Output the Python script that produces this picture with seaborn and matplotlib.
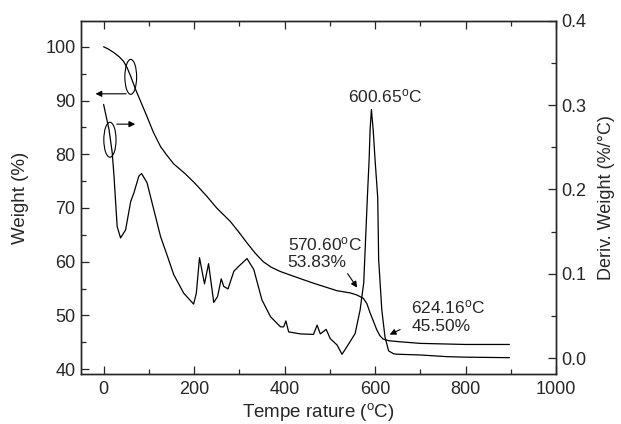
import numpy as np
import pandas as pd
import seaborn as sns
import matplotlib.pyplot as plt
from matplotlib.patches import Ellipse
from matplotlib.ticker import MultipleLocator

# TGA curve: weight (%) vs temperature (C)
temp_w = [0, 10, 23, 35, 44, 52, 60, 71, 84, 96, 110, 126, 140, 155, 180, 203, 229, 250, 280,
          300, 317, 335, 353, 370, 390, 413, 440, 464, 490, 516, 545, 560, 574, 582, 589, 597,
          604, 611, 618, 630, 655, 700, 800, 897]
weight = [100, 99.6, 98.9, 98.1, 97.3, 96.1, 94.5, 92, 89.4, 87, 84.1, 81.4, 79.8, 78.2, 76.4,
          74.5, 72.1, 70, 67.5, 65.4, 63.5, 61.6, 60, 59, 58.2, 57.5, 56.7, 56, 55.3, 54.6,
          54.2, 53.8, 53.2, 52.2, 50.5, 48.8, 47.3, 46.2, 45.6, 45.3, 45.1, 44.8, 44.6, 44.6]

# DTG curve: derivative weight (%/C) vs temperature (C)
temp_d = [0, 12, 19, 23, 26, 30, 37.5, 48.6, 60, 67, 78, 84, 96, 111, 126, 141, 155, 177,
          199, 205, 212, 223, 232, 243.5, 252, 260, 265.6, 275, 288, 299, 317, 332, 350, 369,
          391, 398, 403, 409, 435, 464, 472, 479, 492, 501, 516, 527, 538, 556, 567, 575,
          583, 587, 589, 592, 596, 600, 606, 608, 615, 622, 630, 641, 648, 700, 759, 799, 897]
deriv = [0.301, 0.271, 0.244, 0.216, 0.19, 0.156, 0.1425, 0.152, 0.186, 0.196, 0.216, 0.219,
         0.208, 0.176, 0.144, 0.121, 0.099, 0.077, 0.064, 0.077, 0.119, 0.088, 0.112, 0.066,
         0.073, 0.094, 0.085, 0.082, 0.103, 0.109, 0.118, 0.105, 0.069, 0.049, 0.037, 0.037,
         0.044, 0.031, 0.0286, 0.028, 0.039, 0.0286, 0.034, 0.023, 0.0155, 0.0044, 0.0135,
         0.029, 0.057, 0.089, 0.19, 0.236, 0.27, 0.295, 0.27, 0.236, 0.19, 0.117, 0.057,
         0.025, 0.0085, 0.005, 0.0045, 0.0036, 0.0016, 0.001, 0.0004]

df_w = pd.DataFrame({"temp": temp_w, "weight": weight})
df_d = pd.DataFrame({"temp": temp_d, "deriv": deriv})

sns.set_style("ticks")
plt.rcParams['font.family'] = ['Liberation Sans', 'DejaVu Sans']
plt.rcParams['mathtext.fontset'] = 'custom'
plt.rcParams['mathtext.rm'] = 'Liberation Sans'
plt.rcParams['mathtext.it'] = 'Liberation Sans:italic'

fig = plt.figure(figsize=(6.21, 4.24), dpi=100)
ax = fig.add_axes([0.1304, 0.1179, 0.7649, 0.8326])
ax2 = ax.twinx()

sns.lineplot(data=df_w, x="temp", y="weight", ax=ax, color="black", lw=0.9, estimator=None)
sns.lineplot(data=df_d, x="temp", y="deriv", ax=ax2, color="black", lw=0.9, estimator=None)

ax.set_xlim(-50, 1000)
ax.set_ylim(39.1, 104.8)
ax2.set_ylim(-0.019, 0.4)

ax.xaxis.set_major_locator(MultipleLocator(200))
ax.xaxis.set_minor_locator(MultipleLocator(100))
ax.yaxis.set_major_locator(MultipleLocator(10))
ax.yaxis.set_minor_locator(MultipleLocator(5))
ax2.yaxis.set_major_locator(MultipleLocator(0.1))
ax2.yaxis.set_minor_locator(MultipleLocator(0.05))
ax2.yaxis.set_major_formatter(plt.FormatStrFormatter('%.1f'))

ax.tick_params(axis='x', which='both', direction='in', top=True, labelsize=13, pad=5)
ax.tick_params(axis='y', which='both', direction='in', labelsize=13, pad=4)
ax2.tick_params(axis='y', which='both', direction='in', labelsize=13, pad=4)
for a in (ax, ax2):
    a.tick_params(which='major', length=5.5, width=0.9)
    a.tick_params(which='minor', length=3.5, width=0.9)
    for sp in a.spines.values():
        sp.set_linewidth(1.0)
        sp.set_visible(True)

ax.set_xlabel(r'Tempe rature ($^{\mathrm{o}}$C)', fontsize=13.5, labelpad=2)
ax.set_ylabel('Weight (%)', fontsize=13.5, labelpad=12)
ax2.set_ylabel('Deriv. Weight (%/°C)', fontsize=13, labelpad=8)

# annotations
ax2.text(540, 0.303, r'600.65$^{\mathrm{o}}$C', fontsize=12.5)
ax.text(407, 61.7, '570.60$^{\\mathrm{o}}$C\n53.83%', fontsize=12.5, va='center', linespacing=1.2)
ax.text(680, 49.9, '624.16$^{\\mathrm{o}}$C\n45.50%', fontsize=12.5, va='center', linespacing=1.2)

arrow = dict(arrowstyle='-|>', color='black', lw=0.8, mutation_scale=9)
ax.annotate('', xy=(564, 54.75), xytext=(536, 58.2), arrowprops=arrow)
ax.annotate('', xy=(627, 46.2), xytext=(661, 47.6), arrowprops=arrow)
ax.annotate('', xy=(-24, 91.25), xytext=(56, 91.25), arrowprops=arrow)
ax.annotate('', xy=(76, 85.6), xytext=(23, 85.6), arrowprops=arrow)

ax.add_patch(Ellipse((60, 94.4), 26, 6.5, fill=False, lw=0.8, color='black'))
ax.add_patch(Ellipse((14, 82.7), 27, 6.5, fill=False, lw=0.8, color='black'))

fig.savefig("out.png", dpi=100)
